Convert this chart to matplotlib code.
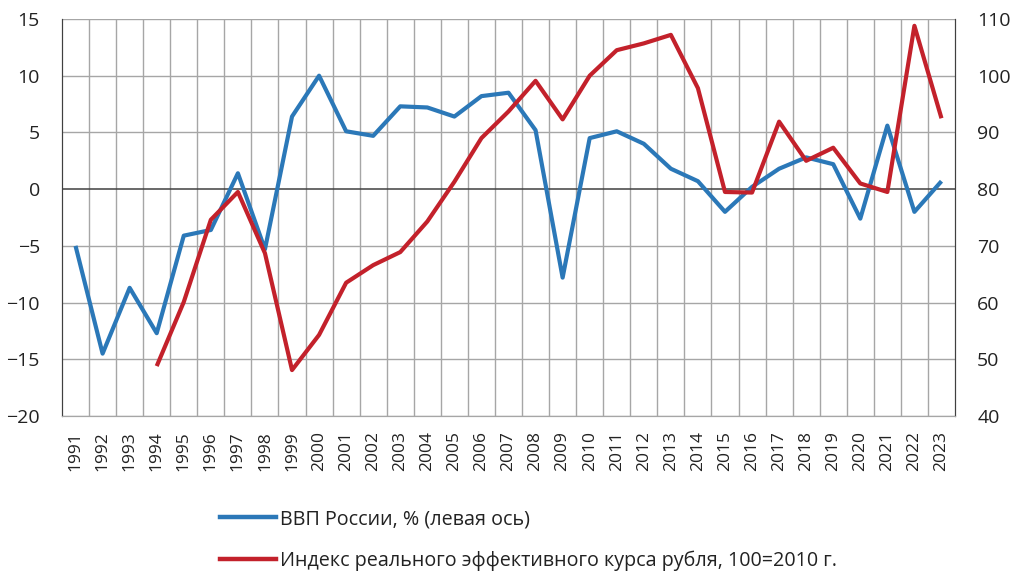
import matplotlib
matplotlib.use("Agg")
import matplotlib.pyplot as plt
from matplotlib.lines import Line2D
import numpy as np

years = [str(y) for y in range(1991, 2024)]
gdp = [-5.0, -14.5, -8.7, -12.7, -4.1, -3.6, 1.4, -5.3, 6.4, 10.0,
       5.1, 4.7, 7.3, 7.2, 6.4, 8.2, 8.5, 5.2, -7.8, 4.5,
       5.1, 4.0, 1.8, 0.7, -2.0, 0.2, 1.8, 2.8, 2.2, -2.6,
       5.6, -2.0, 0.7]
reer_years = [str(y) for y in range(1994, 2024)]
reer = [48.8, 60.1, 74.6, 79.5, 68.7, 48.1, 54.3, 63.5, 66.6, 68.9,
        74.3, 81.3, 89.0, 93.7, 99.1, 92.3, 100.0, 104.5, 105.7, 107.2,
        97.8, 79.5, 79.4, 91.9, 85.0, 87.3, 81.0, 79.5, 108.8, 92.5]

label_gdp = "ВВП России, % (левая ось)"
label_reer = "Индекс реального эффективного курса рубля, 100=2010 г."

blue = "#2B78B8"
red = "#C3212B"
grid_c = "#A6A6A6"
txt_c = "#222222"

fig = plt.figure(figsize=(10.14, 5.72), dpi=100)
ax = fig.add_axes([62/1014, 1-416/572, (955-62)/1014, (416-19)/572])
ax2 = ax.twinx()

n = len(years)
x = np.arange(n)
xr = np.array([years.index(y) for y in reer_years])

ax.set_xlim(-0.5, n - 0.5)
ax.set_ylim(-20, 15)
ax2.set_ylim(40, 110)
ax.set_yticks(np.arange(-20, 16, 5))
ax2.set_yticks(np.arange(40, 111, 10))

# grid
for yv in np.arange(-20, 16, 5):
    if yv != 0:
        ax.axhline(yv, color=grid_c, lw=1.0, zorder=0)
for b in np.arange(0.5, n - 0.5, 1):
    ax.axvline(b, color=grid_c, lw=1.0, zorder=0)
ax.axhline(0, color="#404040", lw=1.1, zorder=1)

ax.plot(x, gdp, color=blue, lw=3.0, solid_capstyle="butt", zorder=3)
ax2.plot(xr, reer, color=red, lw=3.0, solid_capstyle="butt", zorder=3)

ax.set_xticks(x)
ax.set_xticklabels(years, rotation=90, fontsize=12.5, family="Open Sans", color=txt_c)
ax.tick_params(axis="x", length=0, pad=11)
ax.tick_params(axis="y", length=0, pad=16, labelsize=14, labelcolor=txt_c)
ax2.tick_params(axis="y", length=0, pad=16, labelsize=14, labelcolor=txt_c)
for lab in ax.get_yticklabels() + ax2.get_yticklabels():
    lab.set_family("Open Sans")

for a in (ax, ax2):
    a.spines["top"].set_visible(False)
    a.spines["bottom"].set_color(grid_c)
    a.spines["left"].set_color("#404040")
    a.spines["right"].set_color("#404040")
ax2.set_zorder(ax.get_zorder() + 1)
ax2.patch.set_visible(False)

handles = [Line2D([0], [0], color=blue, lw=3.2),
           Line2D([0], [0], color=red, lw=3.2)]
leg = fig.legend(handles, [label_gdp, label_reer], loc="upper left",
                 bbox_to_anchor=(220/1014, 1-509/572), frameon=False,
                 prop={"family": "Open Sans", "size": 14.2},
                 handlelength=2.85, handletextpad=0.2, labelspacing=1.1,
                 borderaxespad=0, borderpad=0)
for t in leg.get_texts():
    t.set_color(txt_c)

fig.savefig("out.png", dpi=100)
